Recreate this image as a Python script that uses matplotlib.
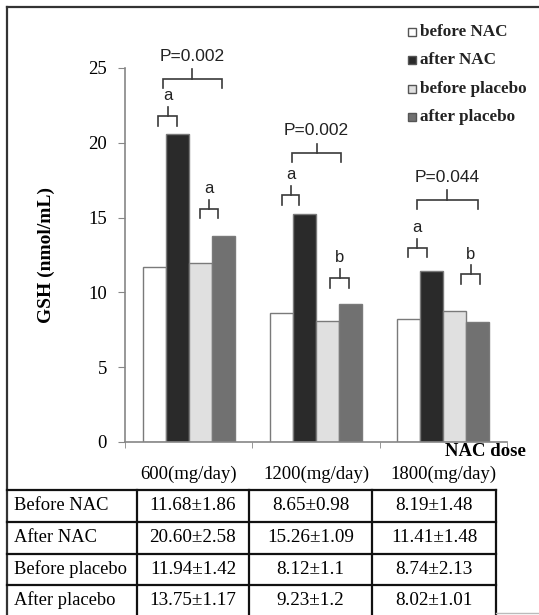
import matplotlib.pyplot as plt
import numpy as np

doses = ["600(mg/day)", "1200(mg/day)", "1800(mg/day)"]
groups = ["before NAC", "after NAC", "before placebo", "after placebo"]
row_names = ["Before NAC", "After NAC", "Before placebo", "After placebo"]
means = [[11.68, 8.65, 8.19],
         [20.60, 15.26, 11.41],
         [11.94, 8.12, 8.74],
         [13.75, 9.23, 8.02]]
sds = [[1.86, 0.98, 1.48],
       [2.58, 1.09, 1.48],
       [1.42, 1.1, 2.13],
       [1.17, 1.2, 1.01]]
colors = ["#ffffff", "#2a2a2a", "#e0e0e0", "#717171"]

# significance marks: (dose index, label, left offset, right offset, height)
p_marks = [(0, "P=0.002", -0.20, 0.26, 24.25),
           (1, "P=0.002", -0.19, 0.20, 19.3),
           (2, "P=0.044", -0.21, 0.27, 16.2)]
letter_marks = [(0, "a", -0.24, -0.09, 21.8),
                (0, "a", 0.09, 0.23, 15.6),
                (1, "a", -0.27, -0.13, 16.5),
                (1, "b", 0.11, 0.26, 10.95),
                (2, "a", -0.28, -0.13, 13.0),
                (2, "b", 0.14, 0.29, 11.2)]

serif = "Liberation Serif"
sans = "Liberation Sans"
W, H = 539, 615

fig = plt.figure(figsize=(W / 100, H / 100), dpi=100)
ax = fig.add_axes([125 / W, 1 - 442 / H, 382 / W, 374 / H])

x = np.arange(len(doses))
bw = 0.18
for i, g in enumerate(groups):
    ax.bar(x + (i - 1.5) * bw, means[i], bw, color=colors[i],
           edgecolor="#7a7a7a", linewidth=1.0, label=g, zorder=2)

ax.set_xlim(-0.5, 2.5)
ax.set_ylim(0, 25)
ax.set_yticks([0, 5, 10, 15, 20, 25])
ax.set_xticks(x)
ax.set_xticklabels(doses, fontfamily=serif, fontsize=13.5)
ax.set_xticks([-0.5, 0.5, 1.5, 2.5], minor=True)
ax.tick_params(axis="x", which="major", length=0, pad=17)
ax.tick_params(axis="x", which="minor", length=4, color="#868686", direction="out")
ax.tick_params(axis="y", length=5, color="#868686", labelsize=13.5, pad=8)
for lab in ax.get_yticklabels():
    lab.set_fontfamily(serif)
for s in ["top", "right"]:
    ax.spines[s].set_visible(False)
for s in ["left", "bottom"]:
    ax.spines[s].set_color("#868686")
    ax.spines[s].set_linewidth(1.2)
ax.set_ylabel("GSH (nmol/mL)", fontfamily=serif, fontweight="bold", fontsize=14)
ax.yaxis.set_label_coords(-0.183, 0.5)
ax.text(2.33, -0.65, "NAC dose", fontfamily=serif, fontweight="bold", fontsize=13.5,
        ha="center", va="center", clip_on=False)


def bracket(x0, x1, y, drop, rise, label, ly, fs):
    xm = (x0 + x1) / 2
    ax.plot([x0, x0, x1, x1], [y - drop, y, y, y - drop], color="#3a3a3a", lw=1.2,
            clip_on=False, solid_joinstyle="miter")
    ax.plot([xm, xm], [y, y + rise], color="#3a3a3a", lw=1.2, clip_on=False)
    ax.text(xm, ly, label, fontfamily=sans, fontsize=fs, ha="center", va="center",
            color="#222222", clip_on=False)


for d, lab, l, r, h in p_marks:
    bracket(d + l, d + r, h, 0.6, 0.65, lab, h + 1.5, 12.5)
for d, lab, l, r, h in letter_marks:
    bracket(d + l, d + r, h, 0.65, 0.6, lab, h + 1.35, 12)

# legend drawn as squares + text
leg = fig.add_axes([0, 0, 1, 1], facecolor="none")
leg.set_xlim(0, W)
leg.set_ylim(H, 0)
leg.axis("off")
for i, g in enumerate(groups):
    yy = 32 + i * 28.3
    leg.add_patch(plt.Rectangle((408, yy - 4), 8, 8, facecolor=colors[i],
                                edgecolor="#555555", lw=1.0))
    leg.text(420, yy, g, fontfamily=serif, fontweight="bold", fontsize=12.3,
             ha="left", va="center", color="#222222")

# outer frame
leg.plot([7, W], [7, 7], color="#333333", lw=1.6)
leg.plot([7, 7], [7, H], color="#333333", lw=1.6)

# table
col_x = [7, 137, 249, 372, 496]
row_y = [490, 522, 554, 585, 616]
for yy in row_y[:-1]:
    leg.plot([7, 496], [yy, yy], color="#111111", lw=1.6)
for xx in col_x[1:]:
    leg.plot([xx, xx], [490, H], color="#111111", lw=1.6)
leg.plot([496, W], [613, 613], color="#bbbbbb", lw=1.0)
for r in range(4):
    yc = (row_y[r] + row_y[r + 1]) / 2
    leg.text(14, yc, row_names[r], fontfamily=serif, fontsize=13.3, ha="left", va="center")
    for c in range(3):
        xc = (col_x[c + 1] + col_x[c + 2]) / 2
        leg.text(xc, yc, f"{means[r][c]:.2f}±{sds[r][c]}", fontfamily=serif,
                 fontsize=13.8, ha="center", va="center")

fig.savefig("out.png", dpi=100)
